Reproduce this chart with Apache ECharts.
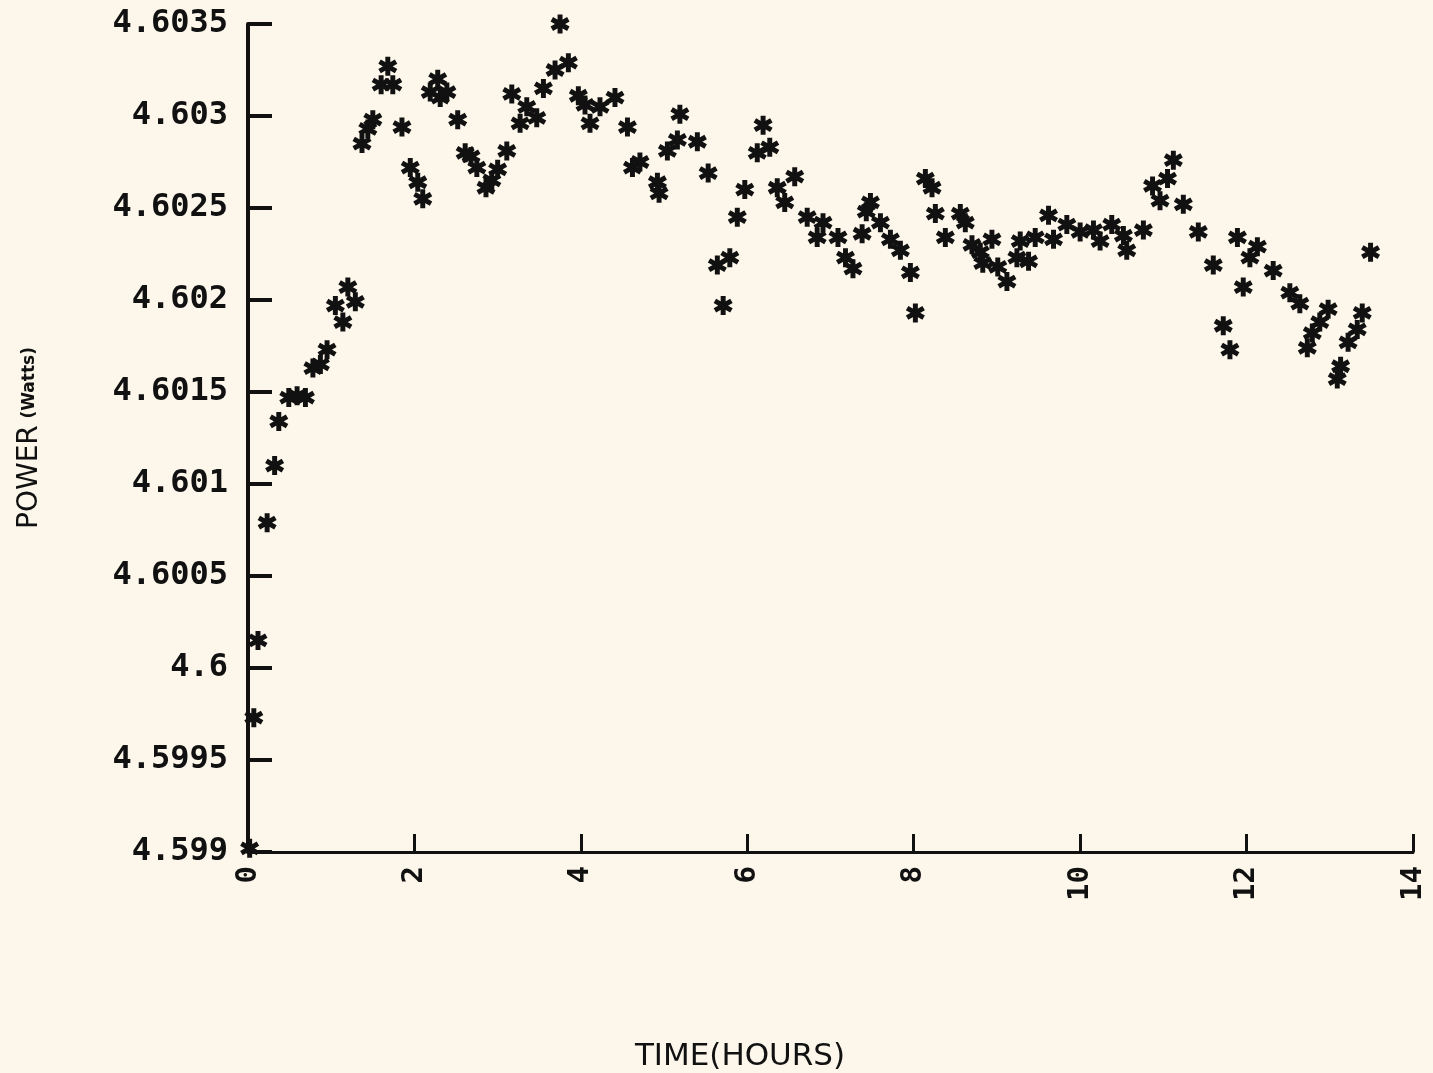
<!DOCTYPE html>
<html>
<head>
<meta charset="utf-8">
<script src="https://cdn.jsdelivr.net/npm/echarts@6/dist/echarts.min.js"></script>
<style>
  html, body { margin: 0; padding: 0; background: #fcf7ea; }
  #main { width: 1433px; height: 1073px; }
</style>
</head>
<body>
<div id="main"></div>
<script>
// time in hours, power in watts
var timeHours = [
  0.02, 0.07, 0.12, 0.23, 0.32, 0.37, 0.49, 0.59, 0.69, 0.78,
  0.87, 0.95, 1.05, 1.14, 1.20, 1.29, 1.37, 1.44, 1.50, 1.60,
  1.68, 1.74, 1.85, 1.95, 2.04, 2.10, 2.19, 2.28, 2.31, 2.39,
  2.52, 2.61, 2.68, 2.75, 2.86, 2.93, 3.00, 3.11, 3.17, 3.27,
  3.35, 3.47, 3.55, 3.69, 3.75, 3.85, 3.97, 4.05, 4.11, 4.23,
  4.41, 4.56, 4.62, 4.71, 4.92, 4.94, 5.04, 5.16, 5.19, 5.40,
  5.53, 5.64, 5.71, 5.79, 5.88, 5.97, 6.12, 6.19, 6.27, 6.36,
  6.45, 6.57, 6.72, 6.84, 6.91, 7.09, 7.18, 7.27, 7.38, 7.43,
  7.48, 7.60, 7.72, 7.84, 7.96, 8.02, 8.14, 8.22, 8.26, 8.38,
  8.56, 8.62, 8.70, 8.80, 8.83, 8.94, 9.01, 9.12, 9.24, 9.28,
  9.38, 9.46, 9.62, 9.68, 9.84, 10.00, 10.16, 10.24, 10.38, 10.52,
  10.56, 10.76, 10.87, 10.96, 11.05, 11.12, 11.24, 11.42, 11.60, 11.72,
  11.80, 11.89, 11.96, 12.04, 12.13, 12.32, 12.52, 12.64, 12.73, 12.79,
  12.88, 12.98, 13.09, 13.13, 13.22, 13.33, 13.39, 13.49
];
var powerWatts = [
  4.59902, 4.59973, 4.60015, 4.60079, 4.60110, 4.60134, 4.60147, 4.60148, 4.60147, 4.60163,
  4.60165, 4.60173, 4.60197, 4.60188, 4.60207, 4.60199, 4.60285, 4.60293, 4.60298, 4.60317,
  4.60327, 4.60317, 4.60294, 4.60272, 4.60264, 4.60255, 4.60313, 4.60320, 4.60310, 4.60313,
  4.60298, 4.60280, 4.60278, 4.60272, 4.60261, 4.60265, 4.60271, 4.60281, 4.60312, 4.60296,
  4.60305, 4.60299, 4.60315, 4.60325, 4.60350, 4.60329, 4.60311, 4.60306, 4.60296, 4.60305,
  4.60310, 4.60294, 4.60272, 4.60275, 4.60264, 4.60258, 4.60281, 4.60287, 4.60301, 4.60286,
  4.60269, 4.60219, 4.60197, 4.60223, 4.60245, 4.60260, 4.60280, 4.60295, 4.60283, 4.60261,
  4.60253, 4.60267, 4.60245, 4.60234, 4.60242, 4.60234, 4.60223, 4.60217, 4.60236, 4.60248,
  4.60253, 4.60242, 4.60233, 4.60227, 4.60215, 4.60193, 4.60266, 4.60261, 4.60247, 4.60234,
  4.60247, 4.60242, 4.60230, 4.60226, 4.60220, 4.60233, 4.60218, 4.60210, 4.60223, 4.60232,
  4.60221, 4.60234, 4.60246, 4.60233, 4.60241, 4.60237, 4.60238, 4.60232, 4.60241, 4.60235,
  4.60227, 4.60238, 4.60262, 4.60254, 4.60266, 4.60276, 4.60252, 4.60237, 4.60219, 4.60186,
  4.60173, 4.60234, 4.60207, 4.60223, 4.60229, 4.60216, 4.60204, 4.60198, 4.60174, 4.60182,
  4.60188, 4.60195, 4.60157, 4.60164, 4.60177, 4.60184, 4.60193, 4.60226
];

var points = [];
for (var i = 0; i < timeHours.length; i++) {
    points.push([timeHours[i], powerWatts[i]]);
}

// six-armed asterisk like the plotter mark
var star = 'path://M-1.3,-5L1.3,-5L1.3,5L-1.3,5Z' +
    'M-4.98,-1.374L-3.68,-3.626L4.98,1.374L3.68,3.626Z' +
    'M3.68,-3.626L4.98,-1.374L-3.68,3.626L-4.98,1.374Z';

var labelFont = 'DejaVu Sans Mono';

var chart = echarts.init(document.getElementById('main'));
var option = {
    backgroundColor: '#fcf7ea',
    animation: false,
    grid: { left: 248, right: 20, top: 24, bottom: 221 },
    xAxis: {
        type: 'value',
        min: 0,
        max: 14,
        interval: 2,
        axisLine: { lineStyle: { color: '#111', width: 3 } },
        axisTick: { inside: true, length: 18, lineStyle: { color: '#111', width: 3 } },
        splitLine: { show: false },
        axisLabel: {
            rotate: 90,
            margin: 14,
            color: '#111',
            fontFamily: labelFont,
            fontWeight: 'bold',
            fontSize: 29
        }
    },
    yAxis: {
        type: 'value',
        min: 4.599,
        max: 4.6035,
        interval: 0.0005,
        name: '{a|POWER}  {b|(Watts)}',
        nameLocation: 'middle',
        nameGap: 204,
        nameRotate: 90,
        nameTextStyle: {
            rich: {
                a: { fontFamily: 'DejaVu Sans', fontSize: 28, color: '#111' },
                b: { fontFamily: 'DejaVu Sans', fontSize: 17, fontWeight: 'bold', color: '#111' }
            }
        },
        axisLine: { lineStyle: { color: '#111', width: 4 } },
        axisTick: { inside: true, length: 24, lineStyle: { color: '#111', width: 4 } },
        splitLine: { show: false },
        axisLabel: {
            margin: 20,
            color: '#111',
            fontFamily: labelFont,
            fontWeight: 'bold',
            fontSize: 32,
            formatter: function (v) { return String(+v.toFixed(4)); }
        }
    },
    graphic: [{
        type: 'text',
        x: 740,
        y: 1057,
        style: {
            text: 'TIME(HOURS)',
            fill: '#111',
            font: '31px "DejaVu Sans"',
            align: 'center',
            verticalAlign: 'middle'
        }
    }],
    series: [{
        type: 'scatter',
        data: points,
        symbol: star,
        symbolSize: 19,
        itemStyle: { color: '#111', opacity: 1 }
    }]
};
chart.setOption(option);
</script>
</body>
</html>
